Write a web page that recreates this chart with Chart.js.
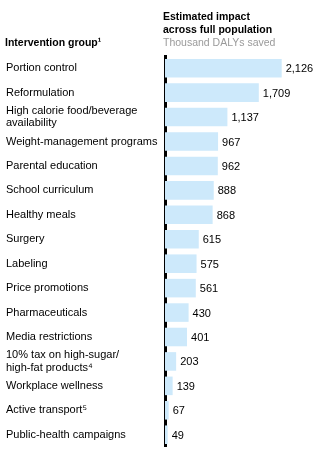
<!DOCTYPE html>
<html>
<head>
<meta charset="utf-8">
<script src="https://cdn.jsdelivr.net/npm/chart.js@4/dist/chart.umd.min.js"></script>
<style>
  html, body { margin: 0; padding: 0; background: #fff; }
  #wrap { position: relative; width: 325px; height: 453px; font-family: Arial, "Liberation Sans", sans-serif; }
  .hd { position: absolute; font-size: 10.5px; line-height: 13px; white-space: nowrap; }
  .b { font-weight: bold; color: #000; }
  .g { color: #9a9a9a; }
  canvas { position: absolute; left: 0; top: 0; }
</style>
</head>
<body>
<div id="wrap">
  <canvas id="chart" width="325" height="453"></canvas>
  <div class="hd b" style="left:5px; top:36px;">Intervention group¹</div>
  <div class="hd b" style="left:163px; top:10px;">Estimated impact</div>
  <div class="hd b" style="left:163px; top:23px;">across full population</div>
  <div class="hd g" style="left:163px; top:36px;">Thousand DALYs saved</div>
</div>
<script>
// Intervention groups (top to bottom)
const categories = [
  'Portion control',
  'Reformulation',
  ['High calorie food/beverage', 'availability'],
  'Weight-management programs',
  'Parental education',
  'School curriculum',
  'Healthy meals',
  'Surgery',
  'Labeling',
  'Price promotions',
  'Pharmaceuticals',
  'Media restrictions',
  ['10% tax on high-sugar/', 'high-fat products⁴'],
  'Workplace wellness',
  'Active transport⁵',
  'Public-health campaigns',
];

// Thousand DALYs saved
const dalysSaved = [2126, 1709, 1137, 967, 962, 888, 868, 615, 575, 561, 430, 401, 203, 139, 67, 49];

const BAR_COLOR = '#cde9fb';
const FONT = 'Arial, "Liberation Sans", sans-serif';

// writes the value just past the end of each bar
const valueLabels = {
  id: 'valueLabels',
  afterDatasetsDraw(chart) {
    const ctx = chart.ctx;
    const meta = chart.getDatasetMeta(0);
    ctx.save();
    ctx.font = '11px ' + FONT;
    ctx.fillStyle = '#000';
    ctx.textAlign = 'left';
    ctx.textBaseline = 'middle';
    meta.data.forEach((bar, i) => {
      ctx.fillText(dalysSaved[i].toLocaleString('en-US'), bar.x + 4, bar.y + 1);
    });
    ctx.restore();
  },
};

new Chart(document.getElementById('chart'), {
  type: 'bar',
  data: {
    labels: categories,
    datasets: [{
      data: dalysSaved,
      backgroundColor: BAR_COLOR,
      borderWidth: 0,
      barPercentage: 0.76,
      categoryPercentage: 1,
    }],
  },
  options: {
    indexAxis: 'y',
    responsive: false,
    animation: false,
    layout: { padding: { left: 6, top: 56, right: 0, bottom: 0 } },
    plugins: {
      legend: { display: false },
      tooltip: { enabled: false },
    },
    scales: {
      x: {
        display: false,
        min: 0,
        max: 2915,
      },
      y: {
        afterFit(scale) { scale.width = 159; },
        grid: { display: false, drawTicks: false },
        border: { display: true, color: '#000', width: 3 },
        ticks: {
          autoSkip: false,
          crossAlign: 'far',
          padding: 0,
          color: '#000',
          font: { family: FONT, size: 11, lineHeight: 1.1 },
        },
      },
    },
  },
  plugins: [valueLabels],
});
</script>
</body>
</html>
